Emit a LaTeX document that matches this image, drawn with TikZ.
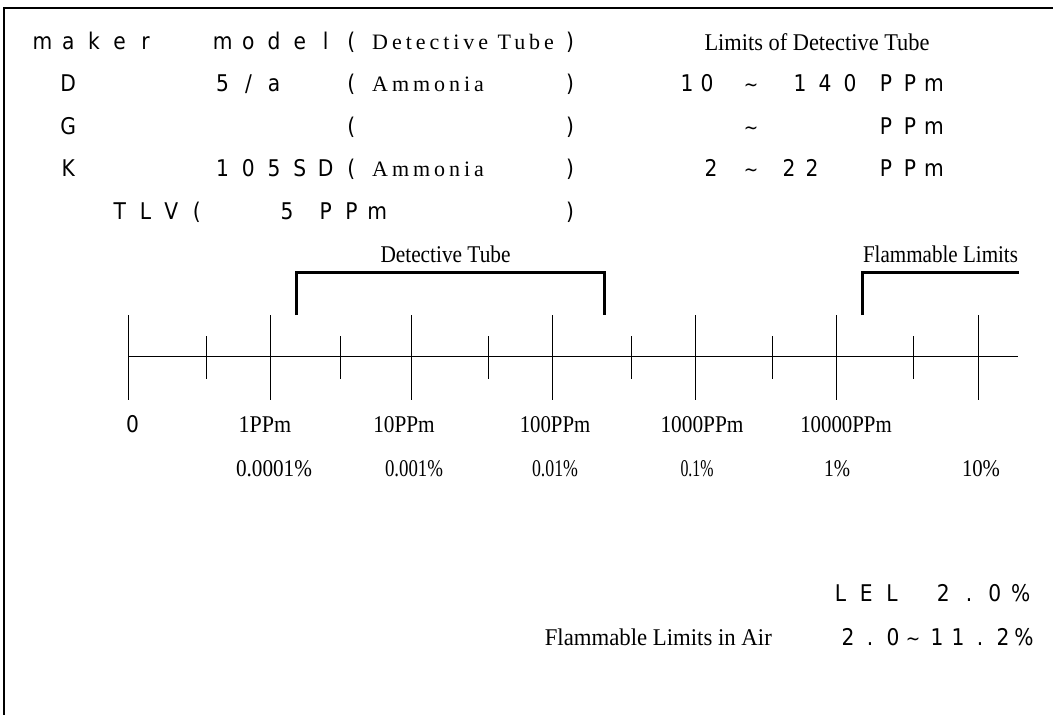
\documentclass[tikz,border=0pt]{standalone}
\usepackage{fontspec}
\usepackage{graphicx}
\newfontfamily\gothic[FakeStretch=0.88]{DejaVu Sans}
\newfontfamily\spserif[LetterSpace=18]{Liberation Serif}
\newfontfamily\tserif{Liberation Serif}
\newcommand\fitw[2]{\resizebox{#1}{\height}{#2}}
\newcommand\tld{\scalebox{0.85}{\textasciitilde}}
\tikzset{
  gch/.style={font=\gothic\fontsize{23}{23}\selectfont, anchor=base, inner sep=0pt},
  spt/.style={font=\spserif\fontsize{22}{22}\selectfont, anchor=base west, inner sep=0pt},
  lab/.style={font=\tserif\fontsize{24}{24}\selectfont, anchor=base, inner sep=0pt},
  frame/.style={line width=2pt},
  axis/.style={line width=1pt},
  brk/.style={line width=3pt},
}
\begin{document}
\begin{tikzpicture}[x=1pt,y=-1pt]
\useasboundingbox (0,0) rectangle (1053,715);
\coordinate (fa) at (4.3,715);
\coordinate (fb) at (4.3,8);
\coordinate (fc) at (1053,8);
\draw[frame] (fa) -- (fb) -- (fc);
% left text grid
\foreach \c/\t [count=\i] in {0/m,2/a,4/k,6/e,8/r,14/m,16/o,18/d,20/e,22/l,24/{(},41/{)}}
  \node[gch] (ra\i) at ({36.07+12.87*(\c+0.5)},49) {\t};
\foreach \c/\t [count=\i] in {2/D,14/5,16/{/},18/a,24/{(},41/{)}}
  \node[gch] (rb\i) at ({36.07+12.87*(\c+0.5)},91) {\t};
\foreach \c/\t [count=\i] in {2/G,24/{(},41/{)}}
  \node[gch] (rc\i) at ({36.07+12.87*(\c+0.5)},134) {\t};
\foreach \c/\t [count=\i] in {2/K,14/1,16/0,18/5,20/S,22/D,24/{(},41/{)}}
  \node[gch] (rd\i) at ({36.07+12.87*(\c+0.5)},176) {\t};
\foreach \c/\t [count=\i] in {6/T,8/L,10/V,12/{(},19/5,22/P,24/P,26/m,41/{)}}
  \node[gch] (re\i) at ({36.07+12.87*(\c+0.5)},219) {\t};
\node[spt] (dt1) at (372,49) {Detective Tube};
\node[spt] (am1) at (372,91) {Ammonia};
\node[spt] (am2) at (372,176) {Ammonia};
% right column
\node[lab] (lim) at (817,50) {\fitw{225pt}{Limits of Detective Tube}};
\foreach \x/\t [count=\i] in {687/1,707/0,751/\tld,800/1,825/4,850/0,886/P,910/P,934/m}
  \node[gch] (qb\i) at (\x,91) {\t};
\foreach \x/\t [count=\i] in {751/\tld,886/P,910/P,934/m}
  \node[gch] (qc\i) at (\x,134) {\t};
\foreach \x/\t [count=\i] in {711/2,751/\tld,789/2,812/2,886/P,910/P,934/m}
  \node[gch] (qd\i) at (\x,176) {\t};
% brackets
\node[lab] (dtl) at (445.5,262) {\fitw{130pt}{Detective Tube}};
\node[lab] (fll) at (940.5,262) {\fitw{155pt}{Flammable Limits}};
\coordinate (b1) at (296.5,315);
\coordinate (b2) at (296.5,272);
\coordinate (b3) at (604.8,272);
\coordinate (b4) at (604.8,315);
\draw[brk] (b1) -- (b2) -- (b3) -- (b4);
\coordinate (f1) at (862,315);
\coordinate (f2) at (862,272);
\coordinate (f3) at (1018.5,272);
\draw[brk] (f1) -- (f2) -- (f3);
% axis
\coordinate (a0) at (128,356.7);
\coordinate (a1) at (1017.5,356.7);
\draw[axis] (a0) -- (a1);
\foreach \x [count=\i] in {128,270,411.6,552.9,695,836.9,978.7}
  \draw[axis] (\x,315) coordinate (bt\i) -- (\x,400);
\foreach \x [count=\i] in {206,340,488.8,631,772,913.8}
  \draw[axis] (\x,336) coordinate (st\i) -- (\x,379);
% labels
\node[gch] (l0) at (132.5,432) {0};
\node[lab] (l1) at (265,432) {\fitw{52.6pt}{1PPm}};
\node[lab] (l2) at (404,432) {\fitw{61.4pt}{10PPm}};
\node[lab] (l3) at (555,432) {\fitw{70.5pt}{100PPm}};
\node[lab] (l4) at (702,432) {\fitw{83pt}{1000PPm}};
\node[lab] (l5) at (846,432) {\fitw{91.5pt}{10000PPm}};
\node[lab] (p1) at (274,476) {\fitw{76pt}{0.0001\%}};
\node[lab] (p2) at (414,476) {\fitw{58pt}{0.001\%}};
\node[lab] (p3) at (555,476) {\fitw{46pt}{0.01\%}};
\node[lab] (p4) at (697,476) {\fitw{33pt}{0.1\%}};
\node[lab] (p5) at (837,476) {\fitw{26pt}{1\%}};
\node[lab] (p6) at (981,476) {\fitw{38pt}{10\%}};
% bottom
\foreach \c/\t [count=\i] in {62/L,64/E,66/L,70/2,72/.,74/0,76/\%}
  \node[gch] (ll\i) at ({36.07+12.87*(\c+0.5)},601) {\t};
\node[lab,anchor=base east] (fla) at (772,645) {\fitw{227pt}{Flammable Limits in Air}};
\foreach \x/\t [count=\i] in {848/2,870/.,893/0,913/\tld,937/1,958/1,980/.,1003/2,1024/\%}
  \node[gch] (lf\i) at (\x,645) {\t};
\end{tikzpicture}
\end{document}
